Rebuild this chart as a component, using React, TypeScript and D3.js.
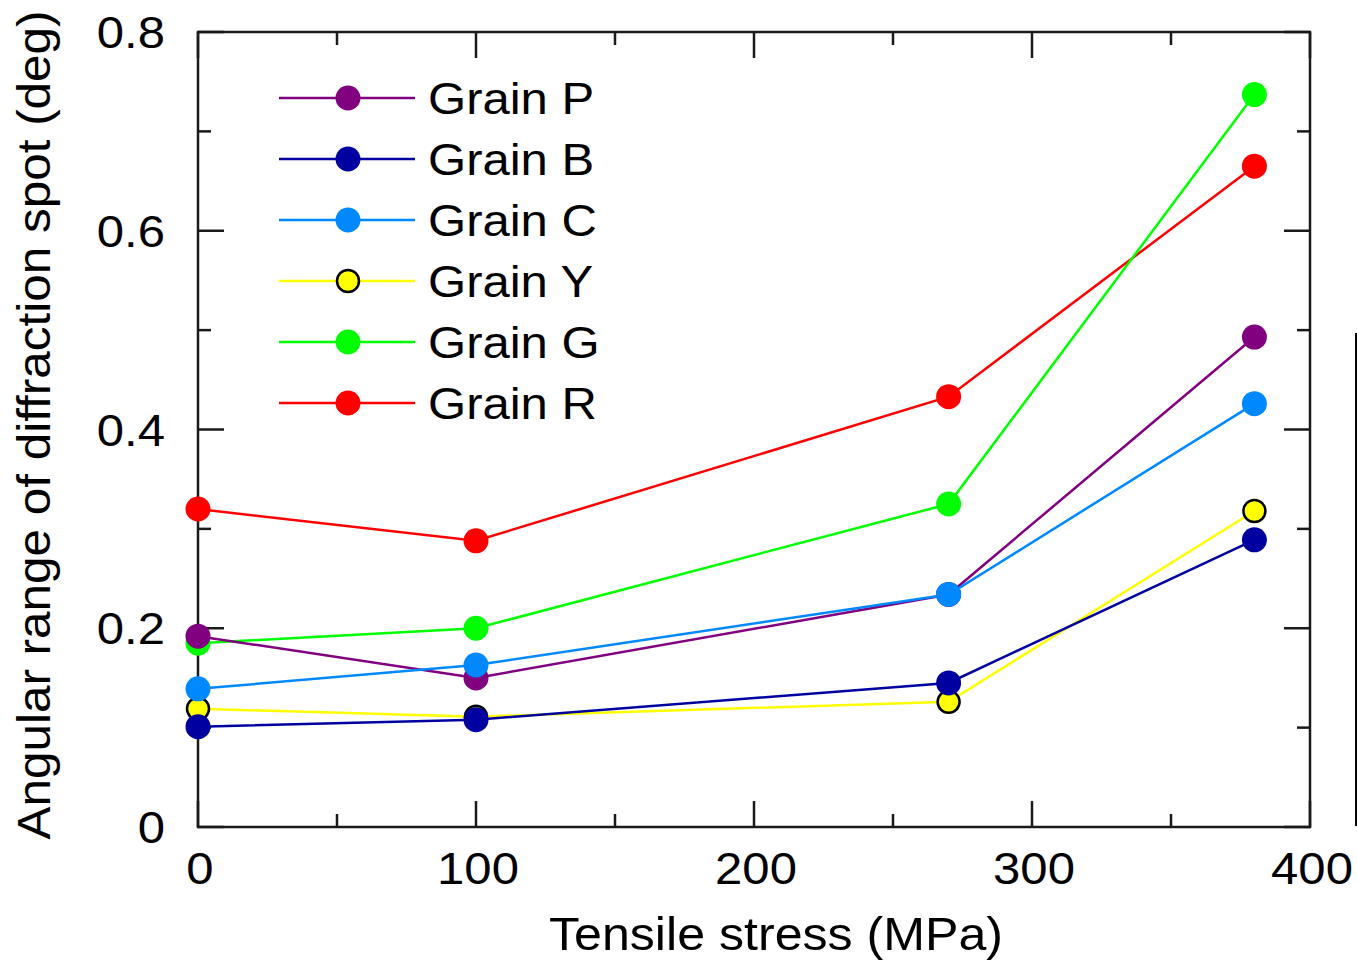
import React from "react";
import * as d3 from "d3";

const stress = [0, 100, 270, 380];
const grainNames = ["Grain P", "Grain B", "Grain C", "Grain Y", "Grain G", "Grain R"];
const grainColors = ["#800080", "#0000a0", "#0088ff", "#ffff00", "#00ff00", "#ff0000"];
const grainP = [0.192, 0.150, 0.234, 0.493];
const grainB = [0.101, 0.108, 0.145, 0.289];
const grainC = [0.139, 0.163, 0.234, 0.426];
const grainY = [0.119, 0.111, 0.126, 0.318];
const grainG = [0.185, 0.200, 0.325, 0.737];
const grainR = [0.320, 0.288, 0.433, 0.665];
const grainValues = [grainP, grainB, grainC, grainY, grainG, grainR];
const drawOrder = [5, 4, 0, 3, 1, 2];
const xTicks = [0, 100, 200, 300, 400];
const xMinor = [50, 150, 250, 350];
const yTicks = [0, 0.2, 0.4, 0.6, 0.8];
const yTickLabels = ["0", "0.2", "0.4", "0.6", "0.8"];
const yMinor = [0.1, 0.3, 0.5, 0.7];

export default function App() {
  const W = 1357, H = 961;
  const L = 198, R = 1310, T = 32, B = 827;
  const x = d3.scaleLinear().domain([0, 400]).range([L, R]);
  const y = d3.scaleLinear().domain([0, 0.8]).range([B, T]);
  const line = d3.line<number>().x((_, i) => x(stress[i])).y((d) => y(d));
  const font = "'Liberation Sans', Arial, sans-serif";
  const axisColor = "#1a1a1a";
  const majorLen = 26, minorLen = 13;
  const legendRows = [98, 159, 220, 281, 342, 403];
  const fs = 45;
  const sx = 1.09;

  const stretched = (px: number, py: number) => `translate(${px},${py}) scale(${sx},1)`;

  return (
    <svg width={W} height={H} style={{ position: "absolute", left: 0, top: 0, background: "#fff" }} fontFamily={font}>
      <rect x={0} y={0} width={W} height={H} fill="#fff" />
      {xTicks.map((t) => (
        <g key={"xt" + t}>
          <line x1={x(t)} x2={x(t)} y1={B} y2={B - majorLen} stroke={axisColor} strokeWidth={2.5} />
          <line x1={x(t)} x2={x(t)} y1={T} y2={T + majorLen} stroke={axisColor} strokeWidth={2.5} />
          <text transform={stretched(x(t) + 2, 884)} textAnchor="middle" fontSize={fs} fill="#000">{t}</text>
        </g>
      ))}
      {xMinor.map((t) => (
        <g key={"xm" + t}>
          <line x1={x(t)} x2={x(t)} y1={B} y2={B - minorLen} stroke={axisColor} strokeWidth={2.5} />
          <line x1={x(t)} x2={x(t)} y1={T} y2={T + minorLen} stroke={axisColor} strokeWidth={2.5} />
        </g>
      ))}
      {yTicks.map((t, i) => (
        <g key={"yt" + t}>
          <line x1={L} x2={L + majorLen} y1={y(t)} y2={y(t)} stroke={axisColor} strokeWidth={2.5} />
          <line x1={R} x2={R - majorLen} y1={y(t)} y2={y(t)} stroke={axisColor} strokeWidth={2.5} />
          <text transform={stretched(165, y(t) + 16)} textAnchor="end" fontSize={fs} fill="#000">{yTickLabels[i]}</text>
        </g>
      ))}
      {yMinor.map((t) => (
        <g key={"ym" + t}>
          <line x1={L} x2={L + minorLen} y1={y(t)} y2={y(t)} stroke={axisColor} strokeWidth={2.5} />
          <line x1={R} x2={R - minorLen} y1={y(t)} y2={y(t)} stroke={axisColor} strokeWidth={2.5} />
        </g>
      ))}
      <rect x={L} y={T} width={R - L} height={B - T} fill="none" stroke={axisColor} strokeWidth={2.5} />
      {drawOrder.map((si) => (
        <g key={"s" + si}>
          <path d={line(grainValues[si]) || ""} fill="none" stroke={grainColors[si]} strokeWidth={2.5} />
          {grainValues[si].map((v, i) => (
            <circle key={i} cx={x(stress[i])} cy={y(v)} r={si === 3 ? 11 : 12.5} fill={grainColors[si]}
              stroke={si === 3 ? "#000" : "none"} strokeWidth={si === 3 ? 2.5 : 0} />
          ))}
        </g>
      ))}
      {grainNames.map((n, i) => (
        <g key={"lg" + n}>
          <line x1={279} x2={415} y1={legendRows[i]} y2={legendRows[i]} stroke={grainColors[i]} strokeWidth={2.5} />
          <circle cx={348} cy={legendRows[i]} r={i === 3 ? 11 : 12.5} fill={grainColors[i]}
            stroke={i === 3 ? "#000" : "none"} strokeWidth={i === 3 ? 2.5 : 0} />
          <text transform={stretched(428, legendRows[i] + 16)} fontSize={fs} fill="#000">{n}</text>
        </g>
      ))}
      <text transform={stretched(776, 950)} textAnchor="middle" fontSize={fs + 1} fill="#000">Tensile stress (MPa)</text>
      <text transform={`translate(50, 425) rotate(-90) scale(1.075,1)`} textAnchor="middle" fontSize={fs + 1} fill="#000">
        Angular range of diffraction spot (deg)
      </text>
      <line x1={1356} x2={1356} y1={333} y2={826} stroke="#000" strokeWidth={2} />
    </svg>
  );
}
